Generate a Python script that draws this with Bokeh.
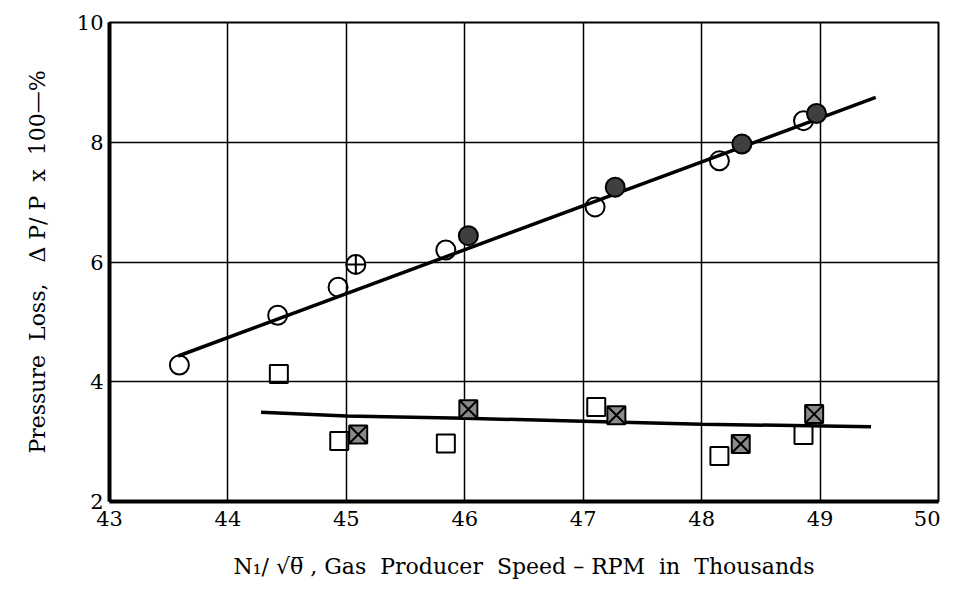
from bokeh.plotting import figure
from bokeh.models import Range1d, FixedTicker
from bokeh.embed import file_html
from bokeh.resources import INLINE

# ---- data ----
x_ticks = [43, 44, 45, 46, 47, 48, 49, 50]
y_ticks = [2, 4, 6, 8, 10]

upper_open_x = [43.59, 44.42, 44.93, 45.84, 47.10, 48.15, 48.86]
upper_open_y = [4.28, 5.11, 5.58, 6.20, 6.92, 7.69, 8.36]
upper_filled_x = [46.03, 47.27, 48.34, 48.97]
upper_filled_y = [6.44, 7.25, 7.97, 8.48]
upper_cross_x = [45.08]
upper_cross_y = [5.96]

lower_open_x = [44.43, 44.94, 45.84, 47.11, 48.15, 48.86]
lower_open_y = [4.13, 3.01, 2.97, 3.58, 2.76, 3.11]
lower_xsq_x = [45.10, 46.03, 47.28, 48.33, 48.95]
lower_xsq_y = [3.12, 3.54, 3.44, 2.96, 3.46]

upper_fit_x = [43.58, 49.47]
upper_fit_y = [4.43, 8.75]
lower_fit_x = [44.28, 45.0, 46.0, 47.0, 48.0, 49.43]
lower_fit_y = [3.49, 3.43, 3.39, 3.34, 3.29, 3.25]

FONT = "DejaVu Serif"
NB = "\u00a0"

p = figure(width=940, height=585, output_backend="svg", toolbar_location=None,
           x_range=Range1d(43, 50), y_range=Range1d(2, 10),
           min_border_left=109, min_border_right=2,
           min_border_top=22, min_border_bottom=84)

p.background_fill_color = "white"
p.border_fill_color = "white"
p.outline_line_color = "black"
p.outline_line_width = 2

for ax in (p.xaxis[0], p.yaxis[0]):
    ax.axis_line_width = 4
    ax.axis_line_color = "black"
    ax.major_tick_out = 0
    ax.major_tick_in = 0
    ax.minor_tick_out = 0
    ax.minor_tick_in = 0
    ax.major_label_text_font = FONT
    ax.major_label_text_font_size = "21px"
    ax.major_label_text_color = "black"
    ax.axis_label_text_font = FONT
    ax.axis_label_text_font_style = "normal"
    ax.axis_label_text_font_size = "22px"
    ax.axis_label_text_color = "black"

p.xaxis.ticker = FixedTicker(ticks=x_ticks)
p.yaxis.ticker = FixedTicker(ticks=y_ticks)
p.xaxis.major_label_standoff = 9
p.yaxis.major_label_standoff = 6
p.xaxis.axis_label = ("N\u2081/" + NB + "\u221a\u03b8\u0305" + NB + "," + NB + "Gas" + NB * 2 +
                      "Producer" + NB * 2 + "Speed" + NB + "\u2013" + NB + "RPM" + NB * 2 +
                      "in" + NB * 2 + "Thousands")
p.yaxis.axis_label = ("Pressure" + NB * 2 + "Loss," + NB * 3 + "\u0394" + NB + "P/" + NB +
                      "P" + NB * 2 + "x" + NB * 2 + "100\u2014%")
p.xaxis.axis_label_standoff = 25
p.yaxis.axis_label_standoff = 24

p.xgrid.ticker = FixedTicker(ticks=x_ticks)
p.ygrid.ticker = FixedTicker(ticks=y_ticks)
for g in (p.xgrid[0], p.ygrid[0]):
    g.grid_line_color = "black"
    g.grid_line_width = 1.5
    g.grid_line_alpha = 1.0

# fitted curves
p.line(upper_fit_x, upper_fit_y, line_color="black", line_width=3.5)
p.line(lower_fit_x, lower_fit_y, line_color="black", line_width=3.5)

# markers
p.scatter(upper_open_x, upper_open_y, marker="circle", size=19,
          fill_color=None, line_color="black", line_width=2)
p.scatter(upper_filled_x, upper_filled_y, marker="circle", size=19,
          fill_color="#3f3f3f", line_color="black", line_width=2)
p.scatter(upper_cross_x, upper_cross_y, marker="circle_cross", size=19,
          fill_color="white", line_color="black", line_width=2)
p.scatter(lower_open_x, lower_open_y, marker="square", size=18,
          fill_color=None, line_color="black", line_width=2)
p.scatter(lower_xsq_x, lower_xsq_y, marker="square_x", size=18,
          fill_color="#8a8a8a", line_color="black", line_width=2)

open("out.html", "w").write(file_html(p, INLINE))
